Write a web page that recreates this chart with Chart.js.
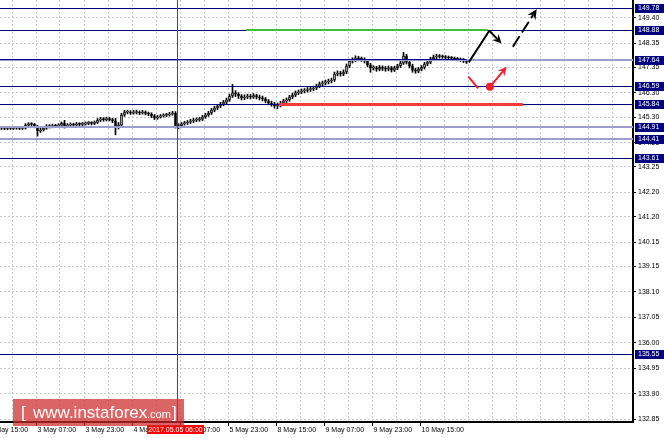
<!DOCTYPE html>
<html>
<head>
<meta charset="utf-8">
<script src="https://cdn.jsdelivr.net/npm/chart.js@4.4.1/dist/chart.umd.min.js"></script>
<style>
    html, body { margin: 0; padding: 0; background: #fff; }
    canvas { display: block; }
</style>
</head>
<body>
<canvas id="grafico" width="664" height="438"></canvas>
<script>
// candles H1 (index = hour bar, 0 = 2 May ~11:00)
const opens = [
    144.86, 144.85, 144.83, 144.85, 144.84, 144.86, 144.85, 144.84, 144.85, 144.97,
    145.02, 145.00, 144.91, 144.73, 144.77, 144.85, 144.93, 144.91, 144.95, 144.93,
    144.97, 145.04, 144.93, 144.97, 145.00, 144.97, 145.02, 145.00, 145.02, 145.04,
    145.06, 145.04, 145.08, 145.18, 145.22, 145.20, 145.24, 145.20, 145.14, 144.87,
    144.97, 145.39, 145.51, 145.51, 145.47, 145.49, 145.51, 145.47, 145.51, 145.45,
    145.43, 145.35, 145.26, 145.31, 145.35, 145.37, 145.39, 145.43, 145.47, 144.91,
    144.95, 145.02, 145.06, 145.10, 145.14, 145.18, 145.20, 145.22, 145.31, 145.39,
    145.47, 145.59, 145.68, 145.76, 145.84, 145.92, 146.01, 146.17, 146.30, 146.25,
    146.17, 146.09, 146.13, 146.17, 146.13, 146.19, 146.13, 146.09, 146.05, 145.97,
    145.88, 145.84, 145.76, 145.80, 145.88, 145.97, 146.01, 146.13, 146.21, 146.30,
    146.34, 146.38, 146.40, 146.44, 146.46, 146.50, 146.58, 146.67, 146.71, 146.75,
    146.79, 146.83, 147.08, 147.12, 147.08, 147.16, 147.41, 147.61, 147.66, 147.74,
    147.70, 147.68, 147.61, 147.45, 147.33, 147.33, 147.28, 147.35, 147.31, 147.28,
    147.33, 147.24, 147.33, 147.41, 147.53, 147.82, 147.57, 147.41, 147.24, 147.20,
    147.28, 147.35, 147.49, 147.57, 147.70, 147.78, 147.82, 147.80, 147.78, 147.76,
    147.74, 147.72, 147.70, 147.68, 147.66, 147.61
];
const closes = [
    144.85, 144.83, 144.85, 144.84, 144.86, 144.85, 144.84, 144.85, 144.97, 145.02,
    145.00, 144.91, 144.73, 144.77, 144.85, 144.93, 144.91, 144.95, 144.93, 144.97,
    145.04, 144.93, 144.97, 145.00, 144.97, 145.02, 145.00, 145.02, 145.04, 145.06,
    145.04, 145.08, 145.18, 145.22, 145.20, 145.24, 145.20, 145.14, 144.87, 144.97,
    145.39, 145.51, 145.51, 145.47, 145.49, 145.51, 145.47, 145.51, 145.45, 145.43,
    145.35, 145.26, 145.31, 145.35, 145.37, 145.39, 145.43, 145.47, 144.91, 144.95,
    145.02, 145.06, 145.10, 145.14, 145.18, 145.20, 145.22, 145.31, 145.39, 145.47,
    145.59, 145.68, 145.76, 145.84, 145.92, 146.01, 146.17, 146.30, 146.25, 146.17,
    146.09, 146.13, 146.17, 146.13, 146.19, 146.13, 146.09, 146.05, 145.97, 145.88,
    145.84, 145.76, 145.80, 145.88, 145.97, 146.01, 146.13, 146.21, 146.30, 146.34,
    146.38, 146.40, 146.44, 146.46, 146.50, 146.58, 146.67, 146.71, 146.75, 146.79,
    146.83, 147.08, 147.12, 147.08, 147.16, 147.41, 147.61, 147.66, 147.74, 147.70,
    147.68, 147.61, 147.45, 147.33, 147.33, 147.28, 147.35, 147.31, 147.28, 147.33,
    147.24, 147.33, 147.41, 147.53, 147.82, 147.57, 147.41, 147.24, 147.20, 147.28,
    147.35, 147.49, 147.57, 147.70, 147.78, 147.82, 147.80, 147.78, 147.76, 147.74,
    147.72, 147.70, 147.68, 147.66, 147.61, 147.57
];
const highs = [
    144.91, 144.90, 144.90, 144.91, 144.91, 144.92, 144.90, 144.91, 145.03, 145.07,
    145.07, 145.05, 144.96, 144.88, 144.91, 144.99, 144.99, 145.01, 145.00, 145.03,
    145.10, 145.17, 145.03, 145.06, 145.05, 145.08, 145.07, 145.08, 145.10, 145.12,
    145.11, 145.14, 145.24, 145.29, 145.28, 145.30, 145.29, 145.25, 145.25, 145.08,
    145.46, 145.58, 145.59, 145.57, 145.58, 145.59, 145.56, 145.58, 145.56, 145.51,
    145.48, 145.41, 145.37, 145.41, 145.44, 145.46, 145.50, 145.54, 145.53, 145.03,
    145.08, 145.13, 145.16, 145.21, 145.25, 145.27, 145.29, 145.38, 145.46, 145.54,
    145.66, 145.75, 145.83, 145.91, 145.99, 146.09, 146.25, 146.65, 146.39, 146.31,
    146.23, 146.22, 146.25, 146.24, 146.27, 146.25, 146.21, 146.17, 146.11, 146.03,
    145.96, 145.91, 145.88, 145.95, 146.04, 146.09, 146.20, 146.29, 146.38, 146.42,
    146.46, 146.48, 146.52, 146.54, 146.58, 146.66, 146.75, 146.79, 146.83, 146.87,
    146.91, 147.16, 147.21, 147.19, 147.25, 147.49, 147.69, 147.75, 147.83, 147.81,
    147.78, 147.75, 147.67, 147.52, 147.42, 147.40, 147.43, 147.42, 147.39, 147.41,
    147.39, 147.40, 147.48, 147.61, 147.97, 147.89, 147.64, 147.48, 147.32, 147.35,
    147.43, 147.56, 147.65, 147.77, 147.86, 147.89, 147.88, 147.86, 147.84, 147.82,
    147.80, 147.78, 147.76, 147.74, 147.72, 147.67
];
const lows = [
    144.79, 144.78, 144.78, 144.79, 144.79, 144.80, 144.78, 144.79, 144.81, 144.92,
    144.94, 144.86, 144.52, 144.67, 144.72, 144.80, 144.85, 144.86, 144.87, 144.88,
    144.92, 144.85, 144.88, 144.92, 144.91, 144.92, 144.94, 144.95, 144.97, 144.99,
    144.98, 144.99, 145.03, 145.12, 145.13, 145.14, 145.14, 145.07, 144.57, 144.81,
    144.92, 145.33, 145.44, 145.41, 145.42, 145.43, 145.40, 145.42, 145.39, 145.36,
    145.28, 145.20, 145.21, 145.26, 145.30, 145.32, 145.34, 145.38, 144.85, 144.82,
    144.89, 144.97, 145.00, 145.04, 145.08, 145.11, 145.13, 145.16, 145.25, 145.33,
    145.41, 145.52, 145.61, 145.69, 145.77, 145.85, 145.95, 146.11, 146.15, 146.07,
    146.01, 146.02, 146.06, 146.05, 146.07, 146.05, 146.01, 145.97, 145.89, 145.81,
    145.75, 145.67, 145.65, 145.72, 145.81, 145.90, 145.95, 146.06, 146.14, 146.23,
    146.27, 146.30, 146.33, 146.36, 146.39, 146.43, 146.51, 146.59, 146.63, 146.67,
    146.71, 146.77, 147.00, 146.99, 147.01, 147.09, 147.34, 147.53, 147.59, 147.62,
    147.60, 147.53, 147.37, 147.15, 147.24, 147.19, 147.21, 147.22, 147.19, 147.21,
    147.16, 147.18, 147.26, 147.35, 147.47, 147.49, 147.33, 147.15, 147.11, 147.13,
    147.21, 147.28, 147.42, 147.50, 147.63, 147.71, 147.73, 147.72, 147.70, 147.68,
    147.66, 147.64, 147.62, 147.60, 147.55, 147.51
];

// eixo de preços
const yTicks = [149.40, 148.35, 147.35, 146.30, 145.30, 144.25, 143.25, 142.20, 141.20,
    140.15, 139.15, 138.10, 137.05, 136.00, 134.95, 133.90, 132.85];
const yMin = 132.73;
const yMax = 150.13;

// eixo de tempo (em barras)
const xLabels = ['2 May 15:00', '3 May 07:00', '3 May 23:00', '4 May 15:00', '5 May 07:00',
    '5 May 23:00', '8 May 15:00', '9 May 07:00', '9 May 23:00', '10 May 15:00'];
const xLabelPos = [-4.5, 11.5, 27.5, 43.5, 59.5, 75.5, 91.5, 107.5, 123.5, 139.5];
const xGrid = [3.5, 11.5, 19.5, 27.5, 35.5, 43.5, 51.5, 59.5, 67.5, 75.5, 83.5, 91.5, 99.5,
    107.5, 115.5, 123.5, 131.5, 139.5, 147.5, 155.5, 163.5, 171.5, 179.5, 187.5, 195.5, 203.5];
const xMin = -0.5;
const xMax = 210.5;

// niveis horizontais
const niveis = [149.78, 148.88, 147.64, 146.59, 145.84, 144.91, 144.41, 143.61, 135.55];
const niveisClaros = [147.64, 144.91, 144.41];
const nivelCorte = 155; // parte escura do 147.64 termina aqui

// linha vertical
const linhaVertical = 58.5;
const linhaVerticalTexto = '2017.05.05 06:00';

// segmentos de suporte / resistencia
const linhaVerde = { de: 81.5, ate: 162, valor: 148.88 };
const linhaVermelha = { de: 92.5, ate: 173.8, valor: 145.86 };

// setas da previsão
const setaPreta = [[155.9, 147.59], [162.6, 148.86], [166.7, 148.34]];
const setaPretaTracejada = [[170.6, 148.23], [178.4, 149.75]];
const tracoVermelho = [[155.6, 146.97], [158.9, 146.49]];
const setaVermelha = [[162.8, 146.55], [168.4, 147.38]];

const corNavy = '#000080';
const corClara = '#9c9ccf';
const fonteEixo = '7px "Liberation Sans", Arial, sans-serif';

const desenhaSeta = (ctx, pontos, cor, largura, dash, cabeca) => {
    ctx.save();
    ctx.strokeStyle = cor;
    ctx.fillStyle = cor;
    ctx.lineWidth = largura;
    ctx.lineCap = 'round';
    ctx.lineJoin = 'round';
    const n = pontos.length;
    const [xa, ya] = pontos[n - 2];
    const [xb, yb] = pontos[n - 1];
    const ang = Math.atan2(yb - ya, xb - xa);
    ctx.setLineDash(dash);
    ctx.beginPath();
    ctx.moveTo(pontos[0][0], pontos[0][1]);
    for (let i = 1; i < n - 1; i++) ctx.lineTo(pontos[i][0], pontos[i][1]);
    ctx.lineTo(xb - Math.cos(ang) * cabeca * 0.7, yb - Math.sin(ang) * cabeca * 0.7);
    ctx.stroke();
    ctx.setLineDash([]);
    ctx.beginPath();
    ctx.moveTo(xb, yb);
    ctx.lineTo(xb - cabeca * Math.cos(ang - 0.45), yb - cabeca * Math.sin(ang - 0.45));
    ctx.lineTo(xb - cabeca * 0.6 * Math.cos(ang), yb - cabeca * 0.6 * Math.sin(ang));
    ctx.lineTo(xb - cabeca * Math.cos(ang + 0.45), yb - cabeca * Math.sin(ang + 0.45));
    ctx.closePath();
    ctx.fill();
    ctx.restore();
};

const desenhos = {
    id: 'desenhos',
    afterDatasetsDraw(chart) {
        const { ctx, chartArea: a, scales: { x, y } } = chart;
        const px = (p) => [x.getPixelForValue(p[0]), y.getPixelForValue(p[1])];
        ctx.save();
        ctx.beginPath();
        ctx.rect(a.left, a.top, a.right - a.left, a.bottom - a.top);
        ctx.clip();

        niveis.forEach((v) => {
            const py = Math.round(y.getPixelForValue(v));
            if (niveisClaros.includes(v)) {
                ctx.fillStyle = corClara;
                ctx.fillRect(a.left, py - 1, a.right - a.left, 2);
                if (v === 147.64) {
                    ctx.fillStyle = corNavy;
                    ctx.fillRect(a.left, py - 1, x.getPixelForValue(nivelCorte) - a.left, 1);
                }
            } else {
                ctx.fillStyle = corNavy;
                ctx.fillRect(a.left, py, a.right - a.left, 1);
            }
        });

        // verde e vermelha
        ctx.fillStyle = '#3cc03c';
        let py = Math.round(y.getPixelForValue(linhaVerde.valor));
        ctx.fillRect(x.getPixelForValue(linhaVerde.de), py - 1, x.getPixelForValue(linhaVerde.ate) - x.getPixelForValue(linhaVerde.de), 2);
        ctx.fillStyle = '#f03c3c';
        py = Math.round(y.getPixelForValue(linhaVermelha.valor));
        ctx.fillRect(x.getPixelForValue(linhaVermelha.de), py - 1, x.getPixelForValue(linhaVermelha.ate) - x.getPixelForValue(linhaVermelha.de), 3);

        // vertical vermelha
        const vx = Math.round(x.getPixelForValue(linhaVertical));
        ctx.fillStyle = '#ff0000';
        ctx.fillRect(vx, a.top, 1, a.bottom - a.top);

        // setas
        desenhaSeta(ctx, setaPreta.map(px), '#000', 2, [], 10);
        desenhaSeta(ctx, setaPretaTracejada.map(px), '#000', 2, [11, 6], 11);
        ctx.strokeStyle = '#f02030';
        ctx.lineWidth = 2;
        ctx.beginPath();
        const t0 = px(tracoVermelho[0]);
        const t1 = px(tracoVermelho[1]);
        ctx.moveTo(t0[0], t0[1]);
        ctx.lineTo(t1[0], t1[1]);
        ctx.stroke();
        desenhaSeta(ctx, setaVermelha.map(px), '#f02030', 2, [], 10);
        const d = px(setaVermelha[0]);
        ctx.fillStyle = '#f02030';
        ctx.beginPath();
        ctx.arc(d[0], d[1], 4, 0, Math.PI * 2);
        ctx.fill();
        ctx.restore();
    },
    afterDraw(chart) {
        const { ctx, chartArea: a, scales: { x, y } } = chart;
        ctx.save();

        // rótulos do tempo
        ctx.font = fonteEixo;
        ctx.fillStyle = '#000';
        ctx.textAlign = 'left';
        ctx.textBaseline = 'middle';
        ctx.strokeStyle = '#000';
        ctx.lineWidth = 1;
        xLabels.forEach((txt, i) => {
            const tx = Math.round(x.getPixelForValue(xLabelPos[i])) + 0.5;
            ctx.beginPath();
            ctx.moveTo(tx, a.bottom);
            ctx.lineTo(tx, a.bottom + 4);
            ctx.stroke();
            ctx.fillText(txt, tx + 1, a.bottom + 8.5);
        });

        // caixa da data
        const vx = x.getPixelForValue(linhaVertical);
        ctx.fillStyle = '#ff0000';
        ctx.fillRect(vx - 30, a.bottom + 3, 57, 9);
        ctx.fillStyle = '#fff';
        ctx.textAlign = 'center';
        ctx.fillText(linhaVerticalTexto, vx - 1.5, a.bottom + 8);

        // caixas dos niveis
        ctx.textAlign = 'left';
        niveis.forEach((v) => {
            const py = Math.round(y.getPixelForValue(v));
            ctx.fillStyle = corNavy;
            ctx.fillRect(a.right + 2, py - 4, 664 - a.right - 2, 9);
            ctx.fillStyle = '#fff';
            ctx.fillText(v.toFixed(2), a.right + 5, py + 0.5);
        });

        // marca d'agua
        ctx.fillStyle = 'rgba(205, 40, 40, 0.72)';
        ctx.fillRect(13, 399, 171, 27);
        ctx.fillStyle = '#fff';
        ctx.textBaseline = 'alphabetic';
        ctx.font = '17px "Liberation Sans", Arial, sans-serif';
        ctx.fillText('[', 21, 418);
        ctx.fillText('www.instaforex', 33, 418);
        ctx.font = '11px "Liberation Sans", Arial, sans-serif';
        ctx.fillText('.com', 147, 418);
        ctx.font = '17px "Liberation Sans", Arial, sans-serif';
        ctx.fillText(']', 172, 418);
        ctx.restore();
    }
};

const wicks = lows.map((l, i) => ({ x: i, y: [l, highs[i]] }));
const corpos = opens.map((o, i) => ({ x: i, y: [o, closes[i]] }));
const corCorpo = opens.map((o, i) => (closes[i] >= o ? '#ffffff' : '#000000'));

new Chart(document.getElementById('grafico'), {
    type: 'bar',
    data: {
        datasets: [
            {
                data: wicks,
                backgroundColor: '#000',
                barThickness: 1,
                grouped: false,
                order: 2
            },
            {
                data: corpos,
                backgroundColor: corCorpo,
                borderColor: '#000',
                borderWidth: 1,
                borderSkipped: false,
                barThickness: 2,
                minBarLength: 1,
                grouped: false,
                order: 1
            }
        ]
    },
    options: {
        responsive: false,
        animation: false,
        layout: { padding: 0 },
        plugins: {
            legend: { display: false },
            tooltip: { enabled: false }
        },
        scales: {
            x: {
                type: 'linear',
                offset: false,
                min: xMin,
                max: xMax,
                afterBuildTicks: (s) => { s.ticks = xGrid.map((v) => ({ value: v })); },
                afterFit: (s) => {
                    s.height = 16;
                    s.paddingLeft = 0;
                    s.paddingRight = 0;
                },
                grid: { color: '#c8c8c8', drawTicks: false, offset: false },
                border: { display: true, color: '#000', width: 2, dash: [2, 2] },
                ticks: { display: false }
            },
            y: {
                position: 'right',
                min: yMin,
                max: yMax,
                afterBuildTicks: (s) => { s.ticks = yTicks.map((v) => ({ value: v })); },
                afterFit: (s) => {
                    s.width = 31;
                    s.paddingTop = 0;
                    s.paddingBottom = 0;
                },
                grid: { color: '#c8c8c8', tickColor: '#000', tickLength: 3 },
                border: { display: true, color: '#000', width: 2, dash: [2, 2] },
                ticks: {
                    autoSkip: false,
                    padding: 2,
                    color: '#000',
                    font: { family: '"Liberation Sans", Arial, sans-serif', size: 7 },
                    callback: (v) => Number(v).toFixed(2)
                }
            }
        }
    },
    plugins: [desenhos]
});
</script>
</body>
</html>
